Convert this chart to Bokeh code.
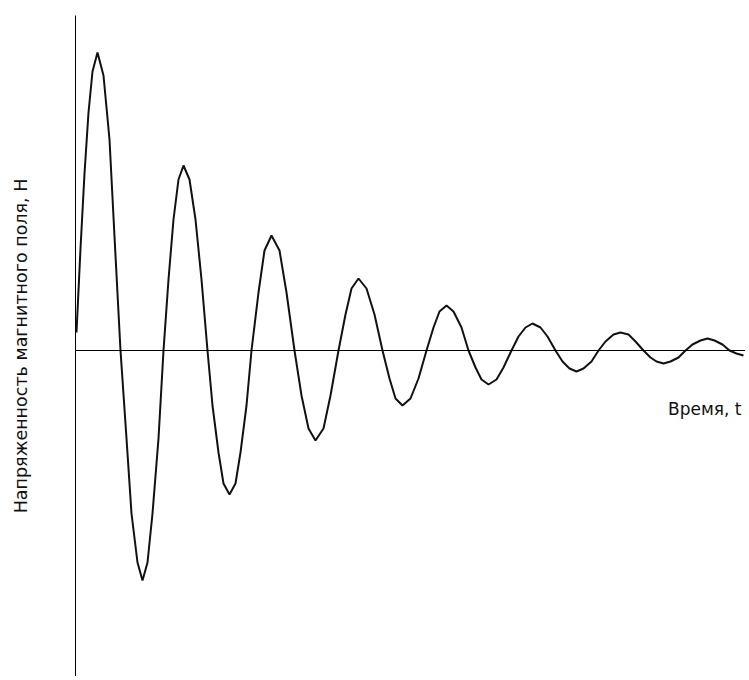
from bokeh.plotting import figure
from bokeh.models import Range1d, Span, Label, FixedTicker
from bokeh.embed import file_html
from bokeh.resources import INLINE

# Time (arbitrary units) and field strength H (arbitrary units)
t = [1, 5, 9, 13, 17, 22, 28, 34, 39, 45, 51, 56, 62, 67, 72, 77, 83, 88,
     93, 98, 103, 108, 114, 120, 126, 132, 137, 143, 148, 154, 160, 165, 171, 176,
     183, 189, 196, 204, 211, 219, 226, 233, 240, 248, 255, 263,
     270, 276, 283, 291, 299, 307, 314, 320, 327, 335, 343, 351,
     358, 364, 371, 378, 386, 393, 400, 406, 413, 421, 428, 436,
     443, 450, 457, 465, 472, 480, 487, 494, 501, 508, 516, 523,
     530, 538, 545, 553, 560, 568, 575, 581, 588, 595, 603, 610,
     617, 625, 632, 639, 647, 654, 661, 668]
H = [18, 102, 177, 238, 279, 298, 275, 211, 114, 0, -88, -163, -212, -230, -212, -163, -88, 0,
     71, 131, 171, 185, 171, 131, 71, 0, -55, -102, -133, -144, -133, -102, -55, 0,
     58, 100, 115, 100, 58, 0, -45, -78, -90, -78, -45, 0,
     36, 62, 72, 62, 36, 0, -28, -48, -55, -48, -28, 0,
     23, 39, 45, 39, 23, 0, -17, -29, -34, -29, -17, 0,
     14, 23, 27, 23, 14, 0, -11, -18, -21, -18, -11, 0,
     9, 16, 18, 16, 9, 0, -7, -11, -13, -11, -7, 0,
     6, 10, 12, 10, 6, 0, -3, -5]

y_label = "Напряженность магнитного поля, Н"
x_label = "Время, t"

FONT = "DejaVu Sans"

p = figure(width=745, height=676,
           x_range=Range1d(0, 670), y_range=Range1d(-326, 335),
           x_axis_type=None,
           toolbar_location=None, output_backend="svg",
           min_border_left=75, min_border_top=15,
           min_border_right=0, min_border_bottom=0)
p.outline_line_color = None
p.grid.visible = False

ax = p.yaxis[0]
ax.ticker = FixedTicker(ticks=[])
ax.major_tick_in = 0
ax.major_tick_out = 0
ax.minor_tick_in = 0
ax.minor_tick_out = 0
ax.major_label_standoff = 0
ax.axis_line_color = "black"
ax.axis_line_width = 1
ax.axis_label = y_label
ax.axis_label_text_font = FONT
ax.axis_label_text_font_size = "17.5px"
ax.axis_label_text_font_style = "normal"
ax.axis_label_text_color = "#111111"
ax.axis_label_standoff = 45

p.add_layout(Span(location=0, dimension="width", line_color="black", line_width=1))

p.line(t, H, line_color="#111111", line_width=2)

p.add_layout(Label(x=666, y=-58, text=x_label, text_align="right",
                   text_baseline="middle", text_font=FONT,
                   text_font_size="17px", text_color="#111111"))

open("out.html", "w").write(file_html(p, INLINE))
